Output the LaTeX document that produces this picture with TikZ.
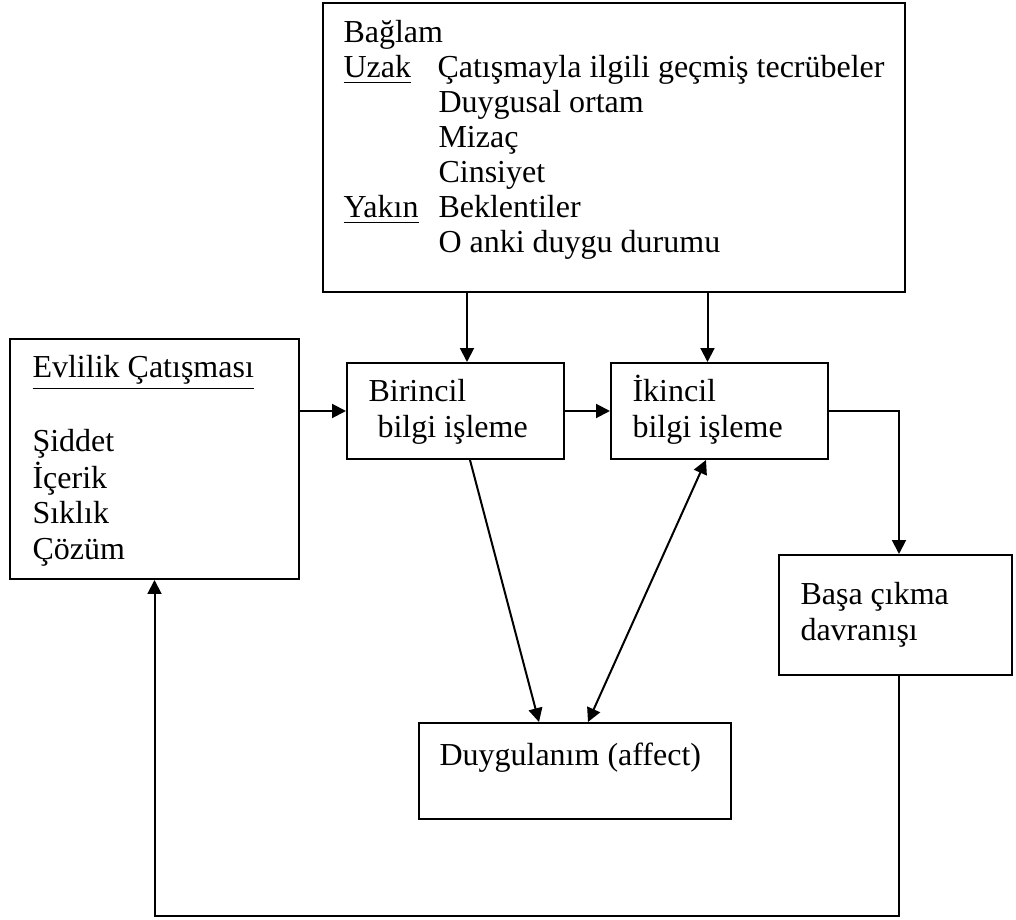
\documentclass[tikz,border=0pt]{standalone}
\usepackage{fontspec}
\setmainfont{Liberation Serif}
\usetikzlibrary{arrows.meta,calc}
\begin{document}
\begin{tikzpicture}[x=0.375pt,y=-0.375pt,
  box/.style={draw,line width=0.75pt,inner sep=0pt,rectangle},
  txt/.style={inner sep=0pt,anchor=base west,font=\fontsize{12}{14}\selectfont},
  arr/.style={line width=0.75pt,-{Triangle[length=5.2pt,width=5.2pt]}},
  arrb/.style={line width=0.75pt,{Triangle[length=5.2pt,width=5.2pt]}-{Triangle[length=5.2pt,width=5.2pt]}}]
\useasboundingbox (0,0) rectangle (1016,920);
% boxes
\node[box,minimum width=582*0.375pt,minimum height=289*0.375pt] (ctx) at (614,147.5) {};
\node[box,minimum width=217*0.375pt,minimum height=96*0.375pt] (bir) at (455.5,411) {};
\node[box,minimum width=217*0.375pt,minimum height=96*0.375pt] (ik) at (719.5,411) {};
\node[box,minimum width=289*0.375pt,minimum height=240*0.375pt] (evl) at (154.5,459) {};
\node[box,minimum width=233*0.375pt,minimum height=120*0.375pt] (basa) at (895.5,615) {};
\node[box,minimum width=312*0.375pt,minimum height=96*0.375pt] (duy) at (575,771) {};
% context texts
\node[txt] (c1) at (343,43) {Bağlam};
\node[txt] (c2a) at (343,78) {\underline{Uzak}};
\node[txt] (c2b) at (437,78) {Çatışmayla ilgili geçmiş tecrübeler};
\node[txt] (c3) at (438,113) {Duygusal ortam};
\node[txt] (c4) at (438,148) {Mizaç};
\node[txt] (c5) at (438,183) {Cinsiyet};
\node[txt] (c6a) at (343,218) {\underline{Yakın}};
\node[txt] (c6b) at (438,218) {Beklentiler};
\node[txt] (c7) at (438,253) {O anki duygu durumu};
% process texts
\node[txt] (b1) at (368,402) {Birincil};
\node[txt] (b2) at (377,438) {bilgi işleme};
\node[txt] (i1) at (632,402) {İkincil};
\node[txt] (i2) at (632,438) {bilgi işleme};
% evlilik texts
\node[txt] (e1) at (32,378) {\underline{Evlilik Çatışması}};
\node[txt] (e2) at (32,452) {Şiddet};
\node[txt] (e3) at (32,488) {İçerik};
\node[txt] (e4) at (32,524) {Sıklık};
\node[txt] (e5) at (32,560) {Çözüm};
% basa and duygulanim texts
\node[txt] (s1) at (800,605) {Başa çıkma};
\node[txt] (s2) at (800,641) {davranışı};
\node[txt] (d1) at (439,765) {Duygulanım (affect)};
% connector end points
\coordinate (pb) at ($(bir.north)+(11.5,0)$);
\coordinate (pi) at ($(ik.north)+(-12,0)$);
\coordinate (pbn) at ($(basa.north)+(3.5,0)$);
\coordinate (pbs) at ($(basa.south)+(3.5,0)$);
\coordinate (pbot) at ($(basa.south)+(3.5,240)$);
% connectors
\draw[arr] (pb |- ctx.south) -- (pb);
\draw[arr] (pi |- ctx.south) -- (pi);
\draw[arr] (evl.east |- bir.west) -- (bir.west);
\draw[arr] (bir.east) -- (ik.west);
\draw[arr] (ik.east) -| (pbn);
\draw[arr] (pbs) -- (pbot) -| (evl.south);
\draw[arr] ($(bir.south)+(14.5,0)$) -- ($(duy.north)+(-36,0)$);
\draw[arrb] ($(duy.north)+(13,0)$) -- ($(ik.south)+(-13.5,0)$);
\end{tikzpicture}
\end{document}
